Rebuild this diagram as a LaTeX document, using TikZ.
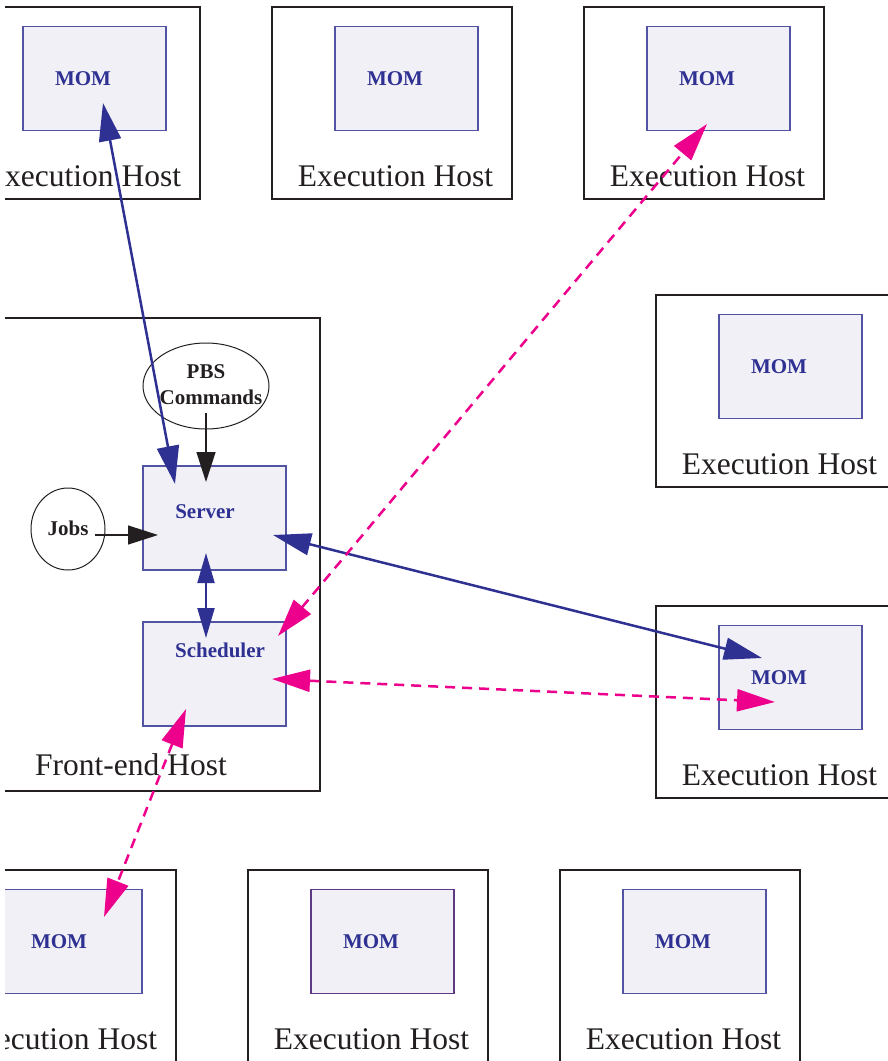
\documentclass[tikz,border=0pt]{standalone}
\usepackage{fontspec}
\setmainfont{Liberation Serif}
\usetikzlibrary{arrows.meta,shapes.geometric}
\definecolor{navy}{HTML}{2E3192}
\definecolor{mag}{HTML}{EC008C}
\definecolor{ink}{HTML}{231F20}
\definecolor{momfill}{HTML}{F1F0F7}
\definecolor{momline}{HTML}{5254A3}
\definecolor{momlinep}{HTML}{5E3A85}
\tikzset{
  hostbox/.style={draw=ink, line width=1.2pt, rectangle, inner sep=0pt, outer sep=0pt, minimum width=240pt, minimum height=192pt},
  mombox/.style={draw=momline, fill=momfill, line width=1.2pt, rectangle, inner sep=0pt, outer sep=0pt, minimum width=143pt, minimum height=104pt},
  hosttext/.style={text=ink, inner sep=0pt, font=\fontsize{31.5}{32}\selectfont},
  momtext/.style={text=navy, inner sep=0pt, font=\fontsize{21}{22}\selectfont\bfseries},
  blktext/.style={text=ink, inner sep=0pt, font=\fontsize{21}{22}\selectfont\bfseries},
  bubble/.style={draw=ink, line width=1pt, ellipse, inner sep=0pt},
  navyarr/.style={draw=navy, line width=2.5pt, {Triangle[length=38pt,width=22pt]}-{Triangle[length=38pt,width=22pt]}},
  navysmall/.style={draw=navy, line width=2pt, {Triangle[length=30pt,width=17pt]}-{Triangle[length=30pt,width=17pt]}},
  magarr/.style={draw=mag, line width=2.5pt, dash pattern=on 10pt off 7pt, {Triangle[length=38pt,width=22pt]}-{Triangle[length=38pt,width=22pt]}},
  blkarr/.style={draw=ink, line width=1.3pt, -{Triangle[length=30pt,width=19pt]}},
}
\newcommand\exechost[4][momline]{%
  \node[hostbox, anchor=north west] (#2) at (#3,#4) {};
  \node[mombox, draw=#1, anchor=north west] (#2m) at (#3+63,#4+19.5) {};
  \node[momtext, anchor=base] (#2mt) at (#3+123,#4+78.5) {MOM};
  \node[hosttext, anchor=base] (#2t) at (#3+123.5,#4+179) {Execution Host};
}
\begin{document}
\begin{tikzpicture}[x=1pt, y=-1pt]
\useasboundingbox (0,0) rectangle (888,1061);
\clip (5,0) rectangle (888,1061);

% execution hosts
\exechost{h1}{-40}{7}
\exechost{h2}{272}{7}
\exechost{h3}{584}{7}
\exechost{h4}{656}{295}
\exechost{h5}{656}{606}
\exechost{h6}{-64}{870}
\exechost[momlinep]{h7}{248}{870}
\exechost{h8}{560}{870}

% front-end host
\node[hostbox, anchor=north west, minimum width=370pt, minimum height=473pt] (fe) at (-50,318) {};
\node[hosttext, anchor=base] (fet) at (131,775) {Front-end Host};

\node[mombox, anchor=north west] (srv) at (143,466) {};
\node[momtext, anchor=base] (srvt) at (205,518) {Server};
\node[mombox, anchor=north west] (sch) at (143,622) {};
\node[momtext, anchor=base] (scht) at (220,657) {Scheduler};

\node[bubble, minimum width=126pt, minimum height=86pt] (pbs) at (206,386) {};
\node[blktext, anchor=base] (pbs1) at (206,378) {PBS};
\node[blktext, anchor=base] (pbs2) at (211,404) {Commands};
\node[bubble, minimum width=74pt, minimum height=82pt] (jobs) at (68,529) {};
\node[blktext, anchor=base] (jobst) at (68,535) {Jobs};

% connector end points
\coordinate (m1a) at (103,103);
\coordinate (s1a) at (175,484);
\coordinate (pbsa) at (206,413);
\coordinate (s2a) at (206,482);
\coordinate (jba) at (95,535);
\coordinate (s3a) at (158,535);
\coordinate (s4a) at (206,553);
\coordinate (c1a) at (206,638);
\coordinate (s5a) at (273,535);
\coordinate (m5a) at (762,658);
\coordinate (c2a) at (278,636);
\coordinate (m3a) at (707,124);
\coordinate (c3a) at (272,679);
\coordinate (m5b) at (775,702);
\coordinate (c4a) at (186,709);
\coordinate (m6a) at (104,917);

% connectors
\draw[navyarr] (m1a) -- (s1a);
\draw[blkarr] (pbsa) -- (s2a);
\draw[blkarr] (jba) -- (s3a);
\draw[navysmall] (s4a) -- (c1a);
\draw[navyarr] (s5a) -- (m5a);
\draw[magarr] (c2a) -- (m3a);
\draw[magarr] (c3a) -- (m5b);
\draw[magarr] (c4a) -- (m6a);
\end{tikzpicture}
\end{document}
